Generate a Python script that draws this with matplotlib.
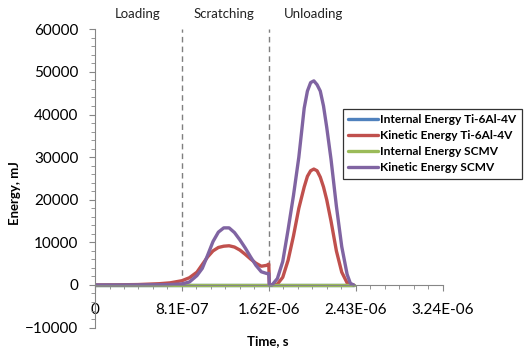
import matplotlib.pyplot as plt
from matplotlib.ticker import MultipleLocator, FixedLocator

plt.rcParams['font.family'] = ['Lato', 'DejaVu Sans']

# time in microseconds
time_us = [0, 0.2, 0.4, 0.6, 0.7, 0.81, 0.88, 0.95, 1.0, 1.05, 1.1, 1.15, 1.2, 1.25,
           1.3, 1.35, 1.4, 1.45, 1.5, 1.55, 1.6, 1.62, 1.625,
           1.65, 1.7, 1.75, 1.8, 1.85, 1.9, 1.95, 1.98, 2.01, 2.04,
           2.07, 2.1, 2.13, 2.16, 2.2, 2.25, 2.3, 2.35, 2.38, 2.41]

internal_ti = [0, 0, 0, 0, 0, 0, 0, 0, 0, 0, 0, 0, 0, 0,
               0, 0, 0, 0, 0, 0, 0, 0, 0,
               0, 0, 0, 0, 0, 0, 0, 0, 0, 0,
               0, 0, 0, 0, 0, 0, 0, 0, 0, 0]
kinetic_ti = [0, 30, 100, 300, 500, 1000, 1700, 3000, 4800, 6600, 8000, 8800, 9100, 9200,
              8900, 8200, 7200, 6100, 5100, 4400, 4600, 4900, 0,
              0, 200, 1800, 5800, 11500, 18000, 23000, 25500, 26800, 27200,
              26800, 25300, 23000, 20000, 15000, 8000, 3000, 500, 100, 0]
internal_scmv = [0, 0, 0, 0, 0, 0, 0, 0, 0, 0, 0, 0, 0, 0,
                 0, 0, 0, 0, 0, 0, 0, 0, 0,
                 0, 0, 0, 0, 0, 0, 0, 0, 0, 0,
                 0, 0, 0, 0, 0, 0, 0, 0, 0, 0]
kinetic_scmv = [0, 0, 20, 60, 100, 250, 700, 2200, 3900, 7000, 10200, 12400, 13400, 13400,
                12300, 10600, 8700, 6600, 4600, 3100, 2700, 2700, 0,
                0, 1500, 5500, 13000, 21000, 30000, 41500, 45500, 47500, 47900,
                47000, 45500, 42000, 37000, 29500, 18500, 9000, 2500, 400, 0]

series = [
    ('Internal Energy Ti-6Al-4V', internal_ti, '#4F81BD'),
    ('Kinetic Energy Ti-6Al-4V', kinetic_ti, '#C0504D'),
    ('Internal Energy SCMV', internal_scmv, '#9BBB59'),
    ('Kinetic Energy SCMV', kinetic_scmv, '#8064A2'),
]

phase_bounds = [8.1e-7, 1.62e-6]
phase_names = ['Loading', 'Scratching', 'Unloading']
phase_centers = [4.0e-7, 1.2e-6, 2.04e-6]

x_ticks = [0, 8.1e-7, 1.62e-6, 2.43e-6, 3.24e-6]
x_labels = ['0', '8.1E-07', '1.62E-06', '2.43E-06', '3.24E-06']

fig = plt.figure(figsize=(5.25, 3.53), dpi=100)
ax = fig.add_axes([0.181, 0.072, 0.662, 0.845])

t = [v * 1e-6 for v in time_us]
for name, vals, color in series:
    ax.plot(t, vals, color=color, lw=2.4, label=name,
            solid_joinstyle='round', solid_capstyle='round')

# phase boundaries
for xb in phase_bounds:
    ax.plot([xb, xb], [0, 60000], color='#7F7F7F', lw=1, ls=(0, (4, 3)), zorder=0)

for name, xc in zip(phase_names, phase_centers):
    ax.text(xc, 63600, name, ha='center', va='center', fontsize=9.5,
            color='#222222', clip_on=False)

ax.set_xlim(0, 3.24e-6)
ax.set_ylim(-10000, 60000)

ax.spines['top'].set_visible(False)
ax.spines['right'].set_visible(False)
ax.spines['bottom'].set_position(('data', 0))
for s in ('left', 'bottom'):
    ax.spines[s].set_color('#868686')

ax.xaxis.set_major_locator(FixedLocator(x_ticks))
ax.set_xticklabels(x_labels)
ax.xaxis.set_minor_locator(MultipleLocator(1.35e-7))
ax.yaxis.set_major_locator(MultipleLocator(10000))
ax.yaxis.set_minor_locator(MultipleLocator(2000))

ax.tick_params(axis='both', which='both', direction='out', color='#868686', labelsize=11)
ax.tick_params(axis='both', which='major', length=4)
ax.tick_params(axis='both', which='minor', length=3)
ax.tick_params(axis='x', pad=9)
ax.tick_params(axis='y', pad=8)

fig.text(15 / 525, 1 - 193 / 353, 'Energy, mJ', rotation=90, ha='center', va='center',
         fontsize=9.5, fontweight='bold')
fig.text(268 / 525, 1 - 341 / 353, 'Time, s', ha='center', va='center',
         fontsize=9.5, fontweight='bold')

leg = ax.legend(loc='upper left', bbox_to_anchor=(343 / 525, 1 - 109 / 353),
                bbox_transform=fig.transFigure, frameon=True, fancybox=False,
                prop={'weight': 'bold', 'size': 8.6}, handlelength=2.5,
                handletextpad=0.15, labelspacing=0.42, borderpad=0.45, borderaxespad=0)
leg.get_frame().set_edgecolor('black')
leg.get_frame().set_linewidth(0.9)

fig.savefig('out.png', dpi=100)
